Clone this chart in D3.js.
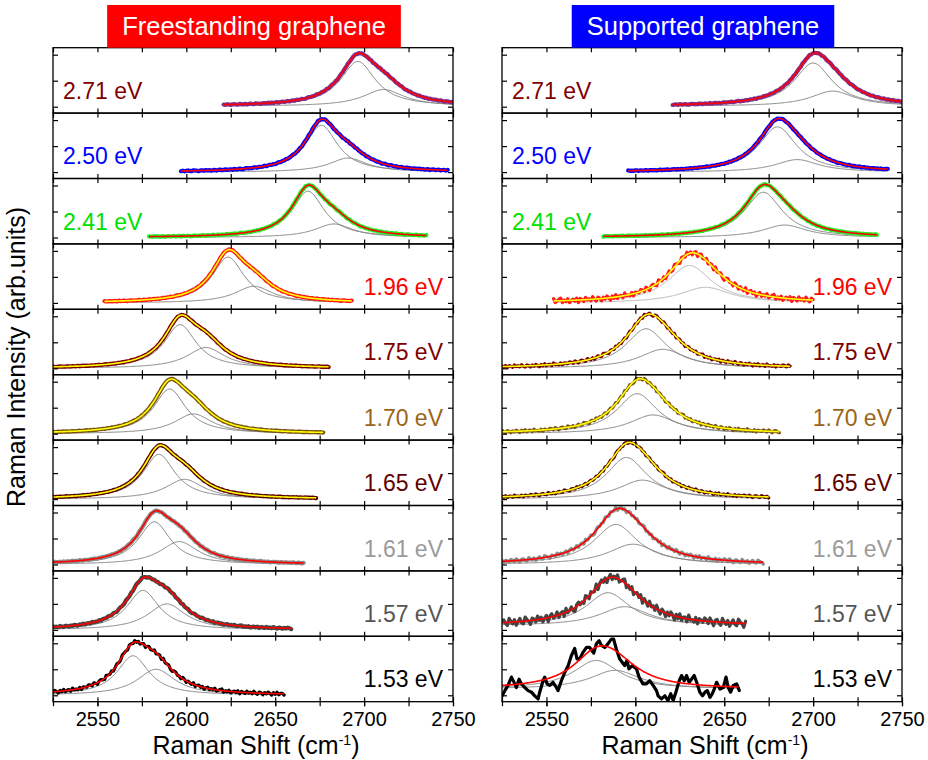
<!DOCTYPE html>
<html>
<head>
<meta charset="utf-8">
<script src="https://cdn.jsdelivr.net/npm/d3@7"></script>
<style>
    body { margin: 0; background: #fff; }
    svg text { font-family: "Liberation Sans", Arial, sans-serif; }
    .tick line { stroke: #000; stroke-width: 1.2; }
    .domain { display: none; }
</style>
</head>
<body>
<svg id="chart" width="928" height="760"></svg>
<script>
/**
 * Data.
 */
const shiftTicks = [2550, 2600, 2650, 2700, 2750];
const energies = ['2.71 eV', '2.50 eV', '2.41 eV', '1.96 eV', '1.75 eV', '1.70 eV', '1.65 eV', '1.61 eV', '1.57 eV', '1.53 eV'];

// Two-Lorentzian fits, one row per laser energy:
// [centre1, height1, fwhm1, centre2, height2, fwhm2, background]
const freestandingFits = [
    [2696.5, 0.86, 24, 2711, 0.32, 28, 0.01],
    [2676, 0.90, 22, 2691, 0.27, 26, 0.0],
    [2668.5, 0.89, 22, 2683, 0.26, 26, 0.0],
    [2623.5, 0.88, 22, 2638, 0.32, 26, 0.0],
    [2596.5, 0.84, 22, 2611, 0.40, 26, 0.0],
    [2590.6, 0.86, 22, 2604, 0.38, 26, 0.0],
    [2584.6, 0.86, 22, 2599, 0.38, 26, 0.0],
    [2582, 0.82, 22, 2596, 0.44, 26, 0.0],
    [2575.6, 0.76, 22, 2589, 0.50, 26, 0.0],
    [2570, 0.76, 22, 2583, 0.50, 26, 0.0]
];
const freestandingRanges = [
    [2621, 2750], [2597, 2747], [2579, 2735], [2554, 2693], [2525, 2680],
    [2525, 2677], [2525, 2673], [2525, 2666], [2525, 2659], [2525, 2655]
];
const freestandingNoise = [0.01, 0.01, 0.01, 0.008, 0.006, 0.006, 0.006, 0.01, 0.015, 0.035];

const supportedFits = [
    [2700, 0.83, 26, 2711, 0.29, 30, 0.01],
    [2680, 0.87, 26, 2691, 0.24, 30, 0.0],
    [2672, 0.87, 26, 2684, 0.24, 30, 0.0],
    [2630.5, 0.72, 30, 2639.5, 0.30, 34, 0.0],
    [2606, 0.76, 28, 2615.5, 0.365, 32, 0.0],
    [2601, 0.77, 28, 2610, 0.36, 32, 0.0],
    [2595, 0.80, 28, 2604, 0.365, 32, 0.0],
    [2589, 0.77, 30, 2598.7, 0.39, 34, 0.0],
    [2584.6, 0.635, 30, 2594, 0.366, 34, 0.08],
    [2578, 0.55, 32, 2588.6, 0.36, 34, 0.12]
];
const supportedRanges = [
    [2621, 2750], [2596, 2742], [2582, 2736], [2554, 2700], [2525, 2687],
    [2525, 2681], [2525, 2675], [2525, 2672], [2525, 2662], [2525, 2658]
];
const supportedNoise = [0.01, 0.008, 0.008, 0.055, 0.03, 0.03, 0.025, 0.04, 0.085, 0];

// Supported graphene at 1.53 eV: raw spectrum
const supported153Shift = [
    2525.1, 2526.6, 2528.4, 2530.3, 2532.2, 2533.1, 2534.6, 2535.9, 2537.8, 2539.7,
    2541.6, 2543.4, 2545.3, 2546.2, 2548.1, 2549.0, 2550.4, 2551.9, 2553.7, 2555.6,
    2556.5, 2558.4, 2560.3, 2562.2, 2564.0, 2565.9, 2567.2, 2568.7, 2570.6, 2572.5,
    2574.3, 2576.6, 2578.1, 2579.6, 2580.9, 2582.8, 2584.6, 2586.5, 2587.8, 2589.3,
    2591.2, 2592.7, 2594.0, 2595.3, 2596.4, 2598.3, 2600.6, 2602.1, 2604.3, 2606.2,
    2608.1, 2610.0, 2611.9, 2612.8, 2614.7, 2616.6, 2618.4, 2619.9, 2621.3, 2622.8,
    2624.7, 2626.0, 2627.5, 2628.8, 2630.3, 2631.6, 2633.1, 2634.5, 2636.3, 2637.8,
    2639.2, 2640.5, 2642.0, 2643.3, 2644.4, 2645.7, 2647.6, 2649.5, 2651.0, 2652.3,
    2653.6, 2655.1, 2657.0, 2658.5
];
const supported153Intensity = [
    -0.01, 0.09, 0.19, 0.35, 0.22, 0.15, 0.31, 0.22, 0.15, 0.09,
    0.06, -0.01, -0.07, 0.06, 0.28, 0.35, 0.22, 0.19, 0.25, 0.15,
    0.09, 0.28, 0.44, 0.57, 0.76, 0.90, 0.70, 0.70, 0.83, 0.92,
    0.92, 0.81, 0.99, 1.05, 0.96, 0.92, 0.99, 1.08, 1.08, 0.89,
    0.70, 0.63, 0.57, 0.67, 0.51, 0.57, 0.51, 0.35, 0.22, 0.22,
    0.28, 0.19, 0.09, -0.01, -0.07, -0.01, -0.10, 0.03, -0.10, 0.06,
    0.28, 0.38, 0.28, 0.38, 0.25, 0.31, 0.38, 0.25, 0.06, -0.01,
    0.06, 0.09, -0.04, 0.03, 0.12, 0.25, 0.12, 0.15, 0.35, 0.15,
    0.06, 0.19, 0.22, 0.09
];

// Fit residual, read as a normalised wiggle and scaled by the noise level of each panel
const residual = [
    0.3, -0.5, 0.8, 0.1, -0.9, 0.4, 0.6, -0.2, -0.7, 0.9, 0.2, -0.4, 0.5, -0.8, 0.0, 0.7, -0.3, -0.6, 0.9, 0.3,
    -0.1, -0.9, 0.5, 0.2, -0.5, 0.8, -0.2, 0.4, -0.7, 0.1, 0.6, -0.9, 0.3, 0.7, -0.4, -0.1, 0.8, -0.6, 0.2, 0.5,
    -0.8, 0.9, -0.3, 0.0, 0.6, -0.5, -0.9, 0.4, 0.7, -0.2, 0.1, -0.6, 0.8, 0.3, -0.7, 0.5, -0.1, -0.4, 0.9, -0.8,
    0.2, 0.6, -0.3, 0.4, -0.9, 0.1, 0.7, -0.5, 0.3, -0.2, 0.8, -0.6, -0.1, 0.5, 0.9, -0.7, 0.2, -0.4, 0.6, -0.8,
    0.0, 0.4, -0.3, 0.7, -0.9, 0.5, 0.1, -0.6, 0.8, -0.2, 0.3, -0.5, 0.9, -0.1, -0.7, 0.6, 0.2, -0.8, 0.4, -0.3,
    0.7, 0.1, -0.9, 0.5, -0.4, 0.8, -0.6, 0.2, 0.3, -0.7, 0.9, -0.2, 0.0, -0.5, 0.6, -0.8, 0.4, 0.1, -0.3, 0.7
];

/**
 * Colours.
 */
const labelColors = ['#800000', '#0000ff', '#00e000', '#ff0000', '#800000', '#9c6418', '#600000', '#9a9a9a', '#555555', '#000000'];
const dataColors = ['#7e2e8e', '#0000ff', '#22ee22', '#ff1a1a', '#7a0000', '#7a5210', '#5c0000', '#8a8a8a', '#444444', '#000000'];
const fitColors = ['#ff0000', '#ff0000', '#ff0000', '#ffff00', '#ffff00', '#ffff00', '#ffff00', '#ff0000', '#ff0000', '#ff0000'];

/**
 * Layout.
 */
const panelTop = 47.7, panelHeight = 65.4;
const colWidth = 400;
const fontFamily = '"Liberation Sans", Arial, sans-serif';
const columns = [
    { left: 53, title: 'Freestanding graphene', box: '#ff0000', fits: freestandingFits, ranges: freestandingRanges, noise: freestandingNoise, shift: 0 },
    { left: 502, title: 'Supported graphene', box: '#0000ff', fits: supportedFits, ranges: supportedRanges, noise: supportedNoise, shift: 37 }
];

const svg = d3.select('#chart');

function lorentz(w, c, a, fwhm) {
    const t = (w - c) / (fwhm / 2);
    return a / (1 + t * t);
}

/**
 * Fit curve (which = 0) or one of its two components (which = 1, 2).
 */
function fitPoints(p, range, which) {
    const pts = [];
    for (let w = range[0]; w <= range[1] + 1e-6; w += 0.5) {
        const l1 = lorentz(w, p[0], p[1], p[2]), l2 = lorentz(w, p[3], p[4], p[5]);
        const v = which === 1 ? l1 : which === 2 ? l2 : l1 + l2;
        pts.push([w, v + p[6]]);
    }
    return pts;
}

/**
 * Measured spectrum: the fit plus its residual.
 */
function dataPoints(p, range, level, offset) {
    const pts = [];
    let k = offset;
    for (let w = range[0]; w <= range[1] + 1e-6; w += 1, k++) {
        const v = lorentz(w, p[0], p[1], p[2]) + lorentz(w, p[3], p[4], p[5]) + p[6];
        pts.push([w, v + level * residual[k % residual.length]]);
    }
    return pts;
}

columns.forEach((col, ci) => {
    const g = svg.append('g').attr('transform', 'translate(' + col.left + ',0)');
    const x = d3.scaleLinear().domain([2525, 2750]).range([0, colWidth]);
    const minorTicks = d3.range(2525, 2751, 25);

    g.append('clipPath').attr('id', 'clip' + ci)
        .append('rect').attr('x', 0).attr('y', panelTop).attr('width', colWidth).attr('height', panelHeight * 10);

    energies.forEach((label, i) => {
        const top = panelTop + i * panelHeight;
        const y = d3.scaleLinear().domain([0, 1]).range([top + 59, top + 7]);
        const line = d3.line().x(d => x(d[0])).y(d => y(d[1]));
        const p = col.fits[i], range = col.ranges[i];
        const pg = g.append('g').attr('clip-path', 'url(#clip' + ci + ')');

        // Components
        const compColor = (ci === 1 && i === 3) ? '#b8b8b8' : '#858585';
        [1, 2].forEach(which => {
            pg.append('path').attr('d', line(fitPoints(p, range, which)))
                .attr('fill', 'none').attr('stroke', compColor).attr('stroke-width', 1);
        });

        // Measured spectrum
        let pts;
        if (ci === 1 && i === 9) pts = supported153Shift.map((s, k) => [s, supported153Intensity[k]]);
        else pts = dataPoints(p, range, col.noise[i], col.shift + i * 11);
        const noisy = col.noise[i] >= 0.025 || (ci === 1 && i === 9);
        pg.append('path').attr('d', line(pts))
            .attr('fill', 'none').attr('stroke', dataColors[i])
            .attr('stroke-width', noisy ? 3.2 : 4.2)
            .attr('stroke-linejoin', 'round').attr('stroke-linecap', 'round');

        // Fit
        pg.append('path').attr('d', line(fitPoints(p, range, 0)))
            .attr('fill', 'none').attr('stroke', fitColors[i]).attr('stroke-width', 1.6);

        // Axes
        const yTickValues = [0, 0.5, 1];
        g.append('g').call(d3.axisLeft(y).tickValues(yTickValues).tickSize(-5).tickFormat(''));
        g.append('g').attr('transform', 'translate(' + colWidth + ',0)')
            .call(d3.axisRight(y).tickValues(yTickValues).tickSize(-5).tickFormat(''));
        g.append('g').attr('transform', 'translate(0,' + top + ')')
            .call(d3.axisTop(x).tickValues(minorTicks).tickSize(-4.5).tickFormat(''));
        g.append('g').attr('transform', 'translate(0,' + (top + panelHeight) + ')')
            .call(d3.axisBottom(x).tickValues(minorTicks).tickSize(-4.5).tickFormat(''));

        g.append('rect').attr('x', 0).attr('y', top).attr('width', colWidth).attr('height', panelHeight)
            .attr('fill', 'none').attr('stroke', '#000').attr('stroke-width', 1.3);

        // Energy label
        const leftSide = i < 3;
        g.append('text')
            .attr('x', leftSide ? 10 : colWidth - 10)
            .attr('y', top + 51)
            .attr('text-anchor', leftSide ? 'start' : 'end')
            .attr('font-size', 23)
            .attr('fill', labelColors[i])
            .text(label);
    });

    // Bottom axis: outer ticks every 25, labels every 50
    const bottom = panelTop + panelHeight * 10;
    g.append('g').attr('transform', 'translate(0,' + bottom + ')')
        .call(d3.axisBottom(x).tickValues(minorTicks).tickSize(4.5).tickFormat(''));
    const axis = g.append('g').attr('transform', 'translate(0,' + bottom + ')')
        .call(d3.axisBottom(x).tickValues(shiftTicks).tickSize(4.5).tickPadding(6).tickFormat(d3.format('d')));
    axis.attr('font-family', fontFamily).attr('font-size', 20);
    axis.selectAll('text').attr('fill', '#000');

    const xt = g.append('text').attr('x', colWidth / 2 + 3).attr('y', 754)
        .attr('text-anchor', 'middle').attr('font-size', 25);
    xt.append('tspan').text('Raman Shift (cm');
    xt.append('tspan').attr('font-size', 14).attr('dy', -9).text('-1');
    xt.append('tspan').attr('dy', 9).text(')');

    // Title box
    const box = g.append('rect').attr('y', 5).attr('height', panelTop - 5).attr('fill', col.box);
    const tt = g.append('text').attr('x', colWidth / 2 + 1).attr('y', 35)
        .attr('text-anchor', 'middle').attr('font-size', 25.5).attr('fill', '#fff').text(col.title);
    const tw = tt.node().getComputedTextLength() + 30;
    box.attr('x', colWidth / 2 + 1 - tw / 2).attr('width', tw);
});

svg.append('text')
    .attr('transform', 'translate(25,357) rotate(-90)')
    .attr('text-anchor', 'middle').attr('font-size', 25)
    .text('Raman Intensity (arb.units)');
</script>
</body>
</html>
